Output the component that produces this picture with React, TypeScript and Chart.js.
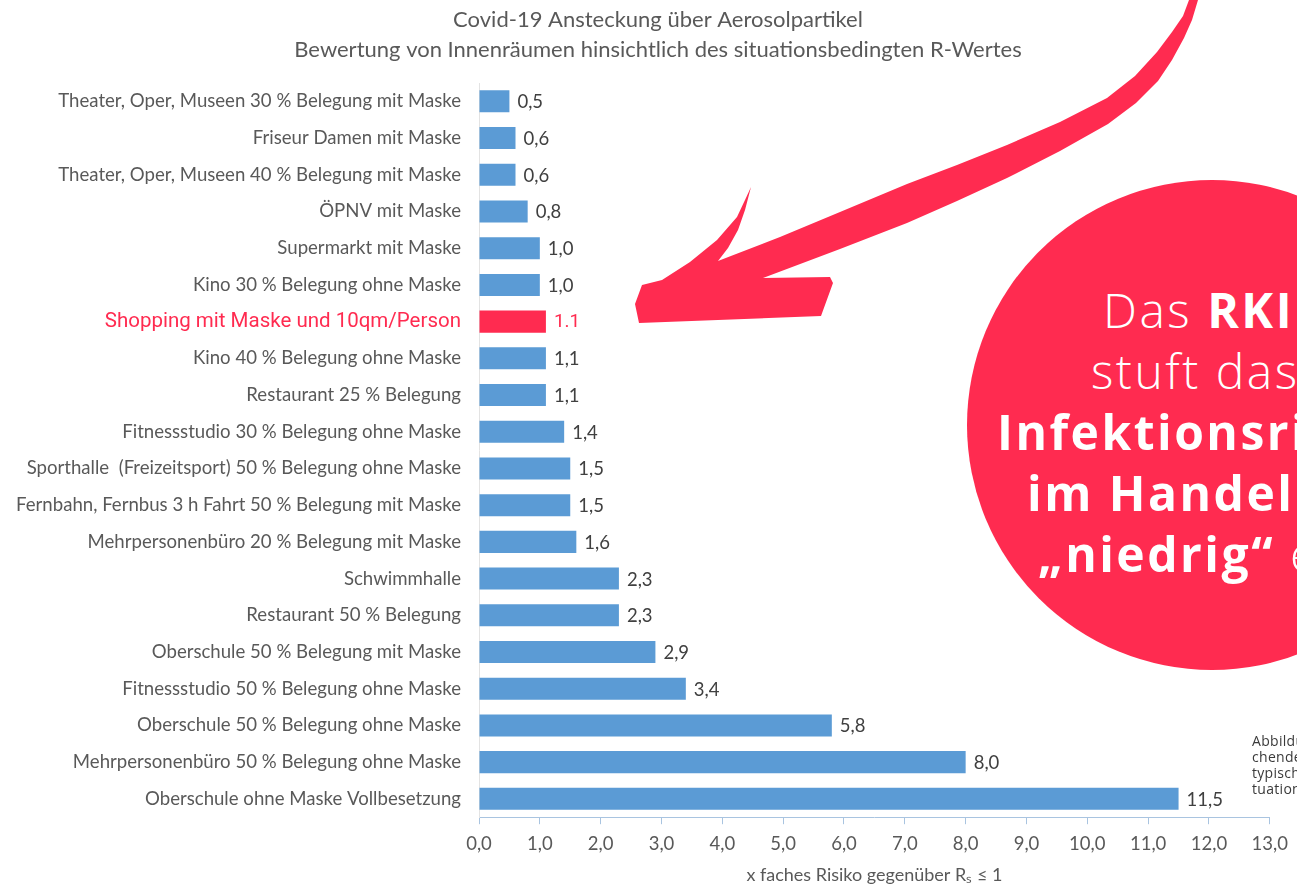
import React, { useEffect, useRef } from 'react';
import { Chart, registerables } from 'chart.js';

Chart.register(...registerables);

const titleLines = [
  'Covid-19 Ansteckung über Aerosolpartikel',
  'Bewertung von Innenräumen hinsichtlich des situationsbedingten R-Wertes',
];

const categories = [
  'Theater, Oper, Museen 30 % Belegung mit Maske',
  'Friseur Damen mit Maske',
  'Theater, Oper, Museen 40 % Belegung mit Maske',
  'ÖPNV mit Maske',
  'Supermarkt mit Maske',
  'Kino 30 % Belegung ohne Maske',
  'Shopping mit Maske und 10qm/Person',
  'Kino 40 % Belegung ohne Maske',
  'Restaurant 25 % Belegung',
  'Fitnessstudio 30 % Belegung ohne Maske',
  'Sporthalle  (Freizeitsport) 50 % Belegung ohne Maske',
  'Fernbahn, Fernbus 3 h Fahrt 50 % Belegung mit Maske',
  'Mehrpersonenbüro 20 % Belegung mit Maske',
  'Schwimmhalle',
  'Restaurant 50 % Belegung',
  'Oberschule 50 % Belegung mit Maske',
  'Fitnessstudio 50 % Belegung ohne Maske',
  'Oberschule 50 % Belegung ohne Maske',
  'Mehrpersonenbüro 50 % Belegung ohne Maske',
  'Oberschule ohne Maske Vollbesetzung',
];

const riskValues = [0.5, 0.6, 0.6, 0.8, 1.0, 1.0, 1.1, 1.1, 1.1, 1.4, 1.5, 1.5, 1.6, 2.3, 2.3, 2.9, 3.4, 5.8, 8.0, 11.5];

const valueLabels = ['0,5', '0,6', '0,6', '0,8', '1,0', '1,0', '1.1', '1,1', '1,1', '1,4', '1,5', '1,5', '1,6', '2,3', '2,3', '2,9', '3,4', '5,8', '8,0', '11,5'];

const xTickLabels = ['0,0', '1,0', '2,0', '3,0', '4,0', '5,0', '6,0', '7,0', '8,0', '9,0', '10,0', '11,0', '12,0', '13,0'];

const xAxisTitle = 'x faches Risiko gegenüber Rₛ ≤ 1';

const highlightIndex = 6;

const circleLines = [
  [{ t: 'Das ', b: false }, { t: 'RKI', b: true }],
  [{ t: 'stuft das', b: false }],
  [{ t: 'Infektionsrisiko', b: true }],
  [{ t: 'im Handel', b: true }, { t: ' als', b: false }],
  [{ t: '„niedrig“', b: true }, { t: ' ein.', b: false }],
];
const circleLineStarts = [1103, 1091, 997, 1027, 1038];

const captionLines = ['Abbildung', 'chende', 'typische', 'tuationen'];

const BLUE = '#5B9BD5';
const RED = '#FF2B50';
const GRAY = '#595959';

const arrowPath =
  'M 1189 0 L 1198 0 L 1192 20 L 1184 38 L 1172 60 L 1158 81 L 1136 103 L 1108 124 L 1060 151 L 1007 178 L 957 201 L 907 223 L 840 249 L 763 278 ' +
  'L 830 277 L 833 283 L 821 316 L 639 323 L 635 304 L 642 285 L 662 280 ' +
  'L 690 262 L 717 240 L 737 217 L 745 200 L 751 187 ' +
  'L 745 210 L 738 230 L 728 248 L 718 261 ' +
  'L 780 237 L 840 212 L 907 184 L 957 165 L 1007 145 L 1060 122 L 1107 98 L 1135 76 L 1157 52 L 1172 32 L 1183 16 Z';

const titlePlugin = {
  id: 'twoLineTitle',
  afterDraw(chart: any) {
    const ctx = chart.ctx;
    ctx.save();
    ctx.font = '22px Lato';
    ctx.fillStyle = GRAY;
    ctx.textAlign = 'center';
    ctx.textBaseline = 'middle';
    titleLines.forEach((line, i) => {
      ctx.fillText(line, 658, 20 + i * 30);
    });
    ctx.restore();
  },
};

const valueLabelPlugin = {
  id: 'valueLabels',
  afterDatasetsDraw(chart: any) {
    const ctx = chart.ctx;
    const meta = chart.getDatasetMeta(0);
    ctx.save();
    ctx.textBaseline = 'middle';
    ctx.textAlign = 'left';
    meta.data.forEach((bar: any, i: number) => {
      const hl = i === highlightIndex;
      ctx.font = hl ? '19px Roboto' : '18.5px Lato';
      ctx.fillStyle = hl ? RED : '#404040';
      ctx.fillText(valueLabels[i], bar.x + 8, bar.y + 1);
    });
    ctx.restore();
  },
};

export default function App() {
  const canvasRef = useRef<HTMLCanvasElement | null>(null);

  useEffect(() => {
    if (!canvasRef.current) return;
    const chart = new Chart(canvasRef.current, {
      type: 'bar',
      data: {
        labels: categories,
        datasets: [
          {
            data: riskValues,
            backgroundColor: riskValues.map((_, i) => (i === highlightIndex ? RED : BLUE)),
            barPercentage: 1,
            categoryPercentage: 0.6,
            borderWidth: 0,
          },
        ],
      },
      options: {
        indexAxis: 'y',
        responsive: false,
        animation: false,
        layout: { padding: { left: 0, right: 21, top: 83, bottom: -2 } },
        plugins: {
          legend: { display: false },
          tooltip: { enabled: false },
          title: { display: false },
        },
        scales: {
          x: {
            min: 0,
            max: 13,
            ticks: {
              stepSize: 1,
              color: GRAY,
              font: { family: 'Lato', size: 18.5 },
              padding: 9,
              callback: (_v: any, i: number) => xTickLabels[i],
            },
            grid: { drawOnChartArea: false, drawTicks: true, tickLength: 7, color: '#A9C4E0' },
            border: { color: '#A9C4E0' },
            title: {
              display: true,
              text: xAxisTitle,
              color: GRAY,
              font: { family: 'Lato', size: 18 },
              padding: { top: 0, bottom: 0 },
            },
          },
          y: {
            afterFit: (scale: any) => {
              scale.width = 479;
            },
            ticks: {
              autoSkip: false,
              padding: 18,
              color: (c: any) => (c.index === highlightIndex ? RED : GRAY),
              font: (c: any) =>
                c.index === highlightIndex ? { family: 'Roboto', size: 20.5 } : { family: 'Lato', size: 18.6 },
            },
            grid: { drawOnChartArea: false, drawTicks: false, color: '#E3E3E3' },
            border: { color: '#E3E3E3' },
          },
        },
      },
      plugins: [valueLabelPlugin, titlePlugin],
    });
    return () => chart.destroy();
  }, []);

  return (
    <div
      style={{
        position: 'absolute',
        left: 0,
        top: 0,
        width: 1297,
        height: 884,
        overflow: 'hidden',
        background: '#fff',
      }}
    >
      <canvas ref={canvasRef} width={1297} height={884} style={{ display: 'block' }} />
      <svg
        width={1297}
        height={884}
        style={{ position: 'absolute', left: 0, top: 0, pointerEvents: 'none' }}
      >
        <path d={arrowPath} fill={RED} />
      </svg>
      <div
        style={{
          position: 'absolute',
          left: 967,
          top: 180,
          width: 490,
          height: 490,
          borderRadius: '50%',
          background: RED,
        }}
      />
      {circleLines.map((line, i) => (
        <div
          key={i}
          style={{
            position: 'absolute',
            left: circleLineStarts[i],
            top: 279 + i * 61,
            whiteSpace: 'nowrap',
            fontFamily: '"Open Sans", sans-serif',
            fontSize: 48,
            lineHeight: '61px',
            color: '#fff',
          }}
        >
          {line.map((p, j) => (
            <span key={j} style={{ fontWeight: p.b ? 700 : 300, letterSpacing: 2.5 }}>
              {p.t}
            </span>
          ))}
        </div>
      ))}
      <div
        style={{
          position: 'absolute',
          left: 1252,
          top: 733,
          fontFamily: '"Open Sans", sans-serif',
          fontSize: 14,
          lineHeight: '16px',
          color: '#3a3a3a',
          whiteSpace: 'nowrap',
          letterSpacing: 0.3,
        }}
      >
        {captionLines.map((l, i) => (
          <div key={i}>{l}</div>
        ))}
      </div>
    </div>
  );
}
